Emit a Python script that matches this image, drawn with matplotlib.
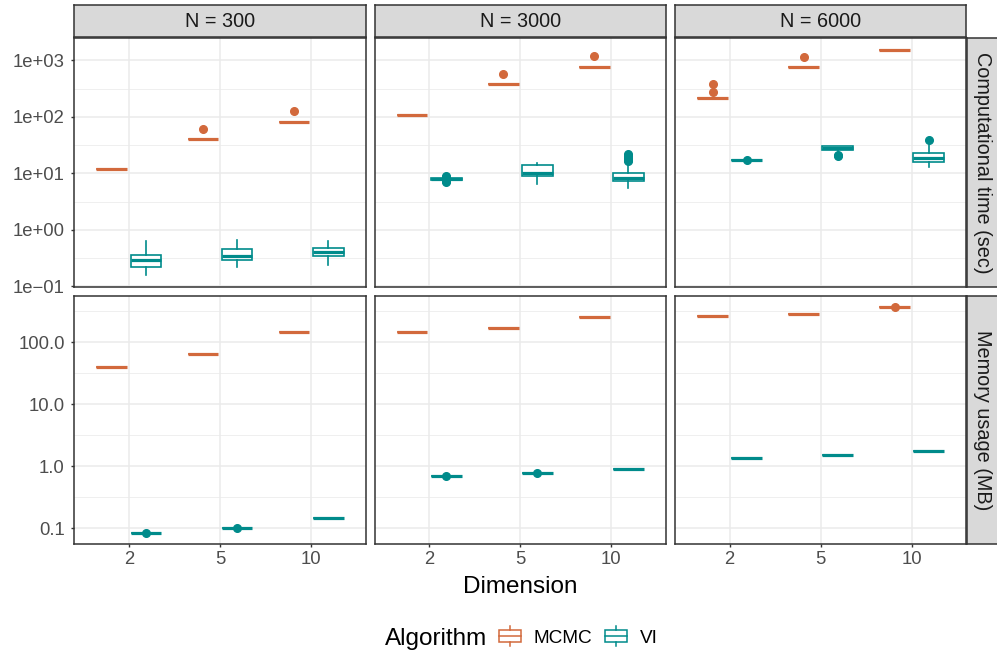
import numpy as np
import matplotlib
matplotlib.use("Agg")
import matplotlib.pyplot as plt
from matplotlib.patches import Rectangle, Patch
from matplotlib.lines import Line2D
from matplotlib.legend_handler import HandlerBase
from matplotlib.ticker import FixedLocator, NullFormatter

plt.rcParams["font.family"] = ["Liberation Sans", "DejaVu Sans"]

# ---- data, indexed [sample size][dimension] ----
dimensions = ["2", "5", "10"]
sample_sizes = ["N = 300", "N = 3000", "N = 6000"]
algorithms = ["MCMC", "VI"]
row_labels = ["Computational time (sec)", "Memory usage (MB)"]

time_mcmc_med = [[11.8, 39.9, 79.4], [106, 382, 773], [211, 763, 1545]]
time_mcmc_fliers = [[[], [60.5], [126]], [[], [582], [1190]], [[377, 280], [1160], []]]

time_vi_q1 = [[0.216, 0.296, 0.344], [7.7, 9.1, 7.3], [16.9, 25.8, 15.8]]
time_vi_med = [[0.288, 0.338, 0.398], [7.9, 10.3, 8.3], [17.2, 28.0, 18.9]]
time_vi_q3 = [[0.357, 0.45, 0.468], [8.1, 14.2, 10.3], [17.4, 30.4, 22.5]]
time_vi_lo = [[0.156, 0.22, 0.238], [7.5, 6.4, 5.4], [16.9, 25.0, 13.1]]
time_vi_hi = [[0.63, 0.65, 0.63], [8.3, 15.0, 15.4], [17.4, 30.8, 31.6]]
time_vi_fliers = [[[], [], []],
                  [[8.9, 8.6, 7.2, 7.0], [], [22.0, 20.5, 19.0, 17.5, 16.5]],
                  [[17.2], [20.2, 21.0], [39.3]]]

mem_mcmc_med = [[40, 64, 145], [148, 172, 253], [268, 293, 374]]
mem_mcmc_fliers = [[[], [], []], [[], [], []], [[], [], [374]]]
mem_vi_med = [[0.084, 0.101, 0.143], [0.686, 0.766, 0.91], [1.34, 1.49, 1.76]]
mem_vi_fliers = [[[0.084], [0.101], []], [[0.686], [0.766], []], [[], [], []]]

colors = {"MCMC": "#D2693C", "VI": "#008B8B"}


def flat_stats(meds, fliers):
    return [dict(med=m, q1=m, q3=m, whislo=m, whishi=m, fliers=f) for m, f in zip(meds, fliers)]


def box_stats(q1, med, q3, lo, hi, fliers):
    return [dict(med=b, q1=a, q3=c, whislo=d, whishi=e, fliers=f)
            for a, b, c, d, e, f in zip(q1, med, q3, lo, hi, fliers)]


W, H = 997, 654


def px_rect(x0, y0, x1, y1):
    return [x0 / W, 1 - y1 / H, (x1 - x0) / W, (y1 - y0) / H]


class BoxKeyHandler(HandlerBase):
    def create_artists(self, legend, orig_handle, xdescent, ydescent,
                       width, height, fontsize, trans):
        col = orig_handle.get_edgecolor()
        x0 = -xdescent
        yc = -ydescent + height / 2
        bh = 0.36 * height
        wl = 0.2 * height
        box = Rectangle((x0, yc - bh), width, 2 * bh, fc="white", ec=col, lw=1.1, transform=trans)
        med = Line2D([x0, x0 + width], [yc, yc], color=col, lw=1.1, transform=trans)
        wu = Line2D([x0 + width / 2] * 2, [yc + bh, yc + bh + wl], color=col, lw=1.1, transform=trans)
        wd = Line2D([x0 + width / 2] * 2, [yc - bh, yc - bh - wl], color=col, lw=1.1, transform=trans)
        return [box, med, wu, wd]


col_x = [(74.3, 365.7), (374.5, 666), (675, 966.3)]
row_y = [(38.3, 286.7), (295.7, 544)]
ylims = [(10 ** -1.006, 10 ** 3.389), (10 ** -1.258, 10 ** 2.755)]
major = [[0.1, 1, 10, 100, 1000], [0.1, 1, 10, 100]]
major_labels = [["1e\u221201", "1e+00", "1e+01", "1e+02", "1e+03"], ["0.1", "1.0", "10.0", "100.0"]]
minor = [[10 ** (k + 0.5) for k in range(-2, 4)], [10 ** (k + 0.5) for k in range(-2, 3)]]

fig = plt.figure(figsize=(W / 100, H / 100), dpi=100)
grid_col = "#EBEBEB"
dark = "#333333"
pos = np.arange(1, len(dimensions) + 1)

for r in range(2):
    for c in range(3):
        ax = fig.add_axes(px_rect(col_x[c][0], row_y[r][0], col_x[c][1], row_y[r][1]))
        ax.set_yscale("log")
        if r == 0:
            stats = {"MCMC": flat_stats(time_mcmc_med[c], time_mcmc_fliers[c]),
                     "VI": box_stats(time_vi_q1[c], time_vi_med[c], time_vi_q3[c],
                                     time_vi_lo[c], time_vi_hi[c], time_vi_fliers[c])}
        else:
            stats = {"MCMC": flat_stats(mem_mcmc_med[c], mem_mcmc_fliers[c]),
                     "VI": flat_stats(mem_vi_med[c], mem_vi_fliers[c])}
        for alg, off in zip(algorithms, [-0.1875, 0.1875]):
            col = colors[alg]
            ax.bxp(stats[alg], positions=pos + off, widths=0.3375, patch_artist=True,
                   showcaps=False, manage_ticks=False,
                   boxprops=dict(facecolor="white", edgecolor=col, linewidth=1.2),
                   medianprops=dict(color=col, linewidth=2.3, solid_capstyle="butt"),
                   whiskerprops=dict(color=col, linewidth=1.2),
                   flierprops=dict(marker="o", markerfacecolor=col, markeredgecolor=col,
                                   markersize=5.5, linestyle="none"))
        ax.set_xlim(0.4, 3.6)
        ax.set_ylim(*ylims[r])
        ax.set_xticks(pos)
        ax.set_xticklabels(dimensions)
        ax.set_yticks(major[r])
        ax.yaxis.set_minor_locator(FixedLocator(minor[r]))
        ax.yaxis.set_minor_formatter(NullFormatter())
        if c == 0:
            ax.set_yticklabels(major_labels[r])
        ax.grid(True, which="major", color=grid_col, lw=1.1)
        ax.grid(True, which="minor", axis="y", color=grid_col, lw=0.55)
        ax.set_axisbelow(True)
        ax.tick_params(which="minor", length=0)
        ax.tick_params(which="major", direction="out", length=2.4, width=1.0, color=dark,
                       labelsize=13.3, labelcolor="#4D4D4D")
        ax.tick_params(axis="x", pad=2.5)
        ax.tick_params(axis="y", pad=4.5)
        if r == 0:
            ax.tick_params(axis="x", length=0, labelbottom=False)
        if c > 0:
            ax.tick_params(axis="y", length=0, labelleft=False)
        for s in ax.spines.values():
            s.set_color(dark)
            s.set_linewidth(1.1)

# strips
for c in range(3):
    sax = fig.add_axes(px_rect(col_x[c][0], 5, col_x[c][1], 37.3))
    sax.set_facecolor("#D9D9D9")
    sax.set_xticks([])
    sax.set_yticks([])
    for s in sax.spines.values():
        s.set_color(dark)
        s.set_linewidth(1.1)
    sax.text(0.5, 0.5, sample_sizes[c], ha="center", va="center", fontsize=14.3,
             color="#1A1A1A", transform=sax.transAxes)

for r in range(2):
    sax = fig.add_axes(px_rect(967.3, row_y[r][0], 997.5, row_y[r][1]))
    sax.set_facecolor("#D9D9D9")
    sax.set_xticks([])
    sax.set_yticks([])
    for s in sax.spines.values():
        s.set_color(dark)
        s.set_linewidth(1.1)
    sax.text(0.5, 0.5, row_labels[r], ha="center", va="center", rotation=-90,
             fontsize=14.3, color="#1A1A1A", transform=sax.transAxes)

fig.text(520.5 / W, 1 - 593 / H, "Dimension", ha="center", va="baseline", fontsize=17.5)

fig.text(487 / W, 1 - 645 / H, "Algorithm", ha="right", va="baseline", fontsize=17.5)
handles = [Patch(edgecolor=colors[a], facecolor="white") for a in algorithms]
fig.legend(handles, algorithms, handler_map={Patch: BoxKeyHandler()},
           loc="center left", bbox_to_anchor=(499 / W, 1 - 637 / H), ncol=2,
           frameon=False, fontsize=13.7, handlelength=1.15, handleheight=1.0,
           handletextpad=0.65, columnspacing=0.7, borderpad=0, borderaxespad=0)

fig.savefig("out.png", dpi=100)
